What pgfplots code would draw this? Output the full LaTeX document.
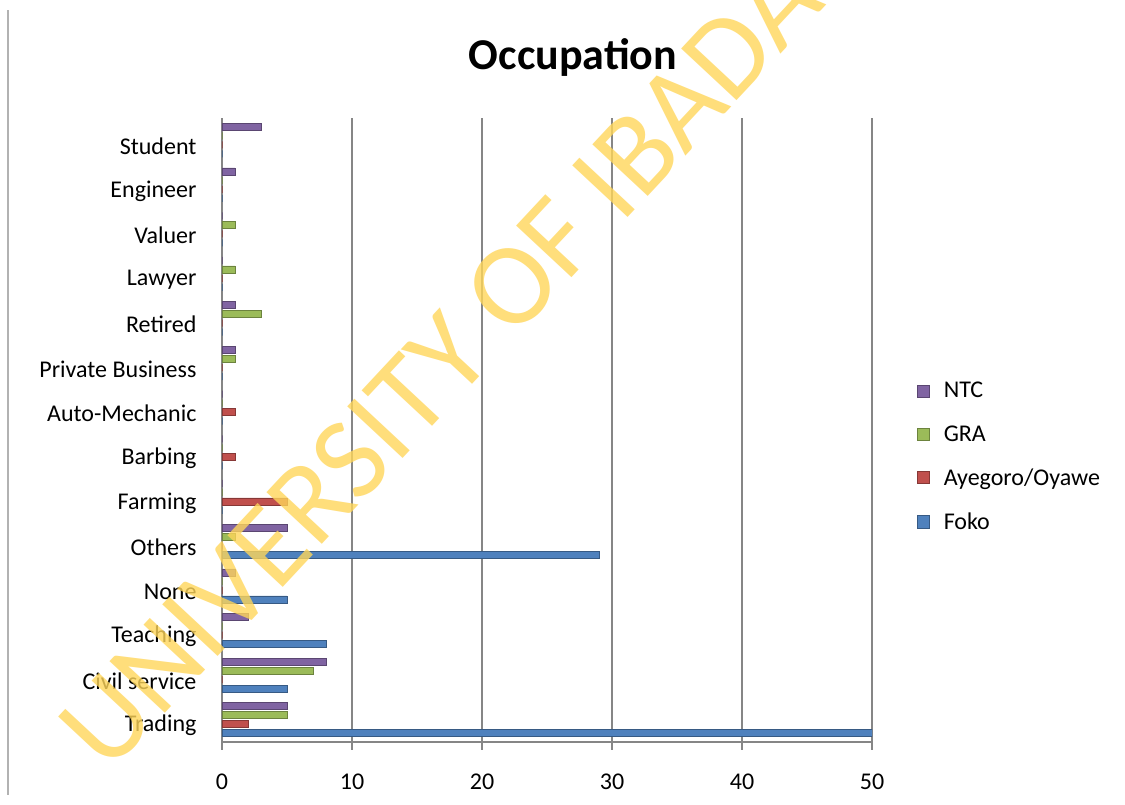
\documentclass[border=0pt]{standalone}
\usepackage{pgfplots}
\pgfplotsset{compat=1.18}
\usepackage{fontspec}
\setmainfont{Carlito}
\definecolor{foko}{HTML}{4F81BD}
\definecolor{aye}{HTML}{C0504D}
\definecolor{gra}{HTML}{9BBB59}
\definecolor{ntc}{HTML}{8064A2}
\definecolor{wm}{RGB}{255,214,90}
\definecolor{gridc}{RGB}{134,134,134}
\begin{document}
\begin{tikzpicture}[x=1pt,y=1pt]
\clip (0,0) rectangle (1125,805);
\fill[white] (0,0) rectangle (1125,805);
\draw[gray!60, line width=1.5pt] (8,10) -- (8,795);
\begin{axis}[
  at={(222pt,63pt)}, anchor=south west,
  width=650pt, height=624pt, scale only axis,
  xbar, bar width=7pt,
  xmin=0, xmax=50, ymin=-0.5, ymax=13.5,
  axis lines*=left,
  axis line style={gridc, line width=1.5pt},
  xtick={0,10,...,50},
  xmajorgrids, grid style={gridc, line width=1.5pt},
  ytick={0,...,13},
  yticklabels={Trading,Civil service,Teaching,None,Others,Farming,Barbing,Auto-Mechanic,Private Business,Retired,Lawyer,Valuer,Engineer,Student},
  minor ytick={-0.5,0.5,...,13.5},
  tick align=outside,
  major tick length=8pt, minor tick length=8pt,
  every tick/.style={gridc, line width=1.2pt},
  ytick style={draw=none},
  minor tick style={gridc, line width=1.2pt},
  yticklabel style={font=\fontsize{24}{24}\selectfont, xshift=-14pt, yshift=-6pt},
  xticklabel style={font=\fontsize{24}{24}\selectfont, yshift=-20pt},
  /pgf/number format/assume math mode=true,
  title={\textbf{Occupation}},
  title style={font=\fontsize{44}{44}\selectfont, at={(0.54,1)}, yshift=32pt},
  legend style={at={(1.065,0.583)}, anchor=north west, draw=none, fill=none,
    font=\fontsize{24}{24}\selectfont, row sep=22pt},
  legend cell align=left,
  reverse legend,
  legend image code/.code={\fill[#1] (0pt,-6pt) rectangle (12pt,6pt); \path[draw=none,fill=none] (0pt,0pt) -- (24pt,0pt);},
]
\addplot[fill=foko, draw=foko!70!black, line width=0.6pt] coordinates {
(50,0) (5,1) (8,2) (5,3) (29,4) (0,5) (0,6) (0,7) (0,8) (0,9) (0,10) (0,11) (0,12) (0,13)};
\addlegendentry{Foko}
\addplot[fill=aye, draw=aye!70!black, line width=0.6pt] coordinates {
(2,0) (0,1) (0,2) (0,3) (0,4) (5,5) (1,6) (1,7) (0,8) (0,9) (0,10) (0,11) (0,12) (0,13)};
\addlegendentry{Ayegoro/Oyawe}
\addplot[fill=gra, draw=gra!70!black, line width=0.6pt] coordinates {
(5,0) (7,1) (0,2) (0,3) (1,4) (0,5) (0,6) (0,7) (1,8) (3,9) (1,10) (1,11) (0,12) (0,13)};
\addlegendentry{GRA}
\addplot[fill=ntc, draw=ntc!70!black, line width=0.6pt] coordinates {
(5,0) (8,1) (2,2) (1,3) (5,4) (0,5) (0,6) (0,7) (1,8) (1,9) (0,10) (0,11) (1,12) (3,13)};
\addlegendentry{NTC}
\end{axis}
\node[rotate=47, anchor=base west, text=wm, opacity=0.8, font=\fontsize{118}{118}\selectfont, inner sep=0pt] at (108,30) {UNIVERSITY OF IBADAN};
\end{tikzpicture}
\end{document}
